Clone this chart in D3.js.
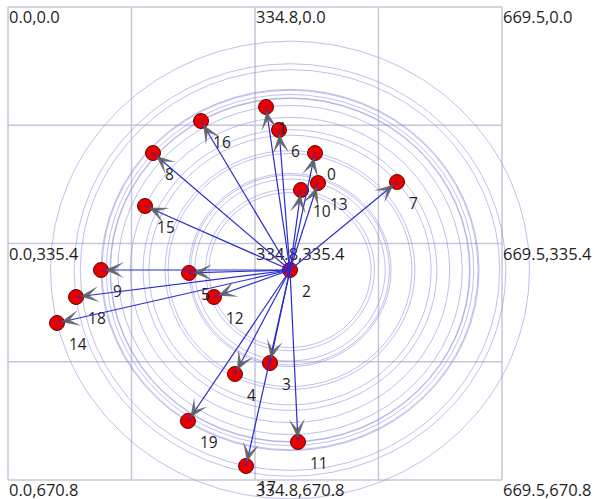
<!DOCTYPE html>
<html>
<head>
<meta charset="utf-8">
<script src="https://cdn.jsdelivr.net/npm/d3@7"></script>
<style>
  html, body { margin: 0; padding: 0; background: #fff; }
  svg { display: block; }
  text { font-family: "Open Sans", "Noto Sans", sans-serif; fill: #1e1e1e; }
</style>
</head>
<body>
<svg id="chart" width="594" height="499"></svg>
<script>
// ---- data ----
const nodeIds = [0,1,2,3,4,5,6,7,8,9,10,11,12,13,14,15,16,17,18,19];
const nodeX = [416.1,349.7,382.2,355.1,307.6,245.3,367.3,527.2,196.5,126.0,397.1,393.0,279.2,420.1,66.4,185.7,261.6,322.6,92.2,243.9];
const nodeY = [207.1,141.8,373.0,504.9,520.5,377.2,174.4,248.2,207.1,373.0,259.5,616.9,411.3,249.6,448.1,282.2,161.7,650.9,411.3,587.1];
const centerId = 2;
const xTicks = [0, 334.8, 669.5];
const yTicks = [0, 335.4, 670.8];
const gridX = [0, 167.4, 334.8, 502.1, 669.5];
const gridY = [0, 167.7, 335.4, 503.1, 670.8];

// ---- scales ----
const x = d3.scaleLinear().domain([0, 669.5]).range([8, 502]);
const y = d3.scaleLinear().domain([0, 670.8]).range([7, 480]);

const svg = d3.select("#chart");

// grid
svg.append("g").selectAll("line").data(gridX).join("line")
  .attr("x1", d => x(d)).attr("x2", d => x(d))
  .attr("y1", y(0)).attr("y2", y(670.8))
  .attr("stroke", "#c6c6da").attr("stroke-width", 1.5);
svg.append("g").selectAll("line").data(gridY).join("line")
  .attr("y1", d => y(d)).attr("y2", d => y(d))
  .attr("x1", x(0)).attr("x2", x(669.5))
  .attr("stroke", "#c6c6da").attr("stroke-width", 1.5);

const nodes = nodeIds.map((id, i) => ({id, x: nodeX[i], y: nodeY[i]}));
const c = nodes.find(n => n.id === centerId);
const others = nodes.filter(n => n.id !== centerId);

// rings around centre through each node (in data space)
svg.append("g").selectAll("ellipse").data(others).join("ellipse")
  .attr("cx", x(c.x)).attr("cy", y(c.y))
  .attr("rx", d => { const R = Math.hypot(d.x - c.x, d.y - c.y); return x(R) - x(0); })
  .attr("ry", d => { const R = Math.hypot(d.x - c.x, d.y - c.y); return y(R) - y(0); })
  .attr("fill", "none").attr("stroke", "#8a8ae0").attr("stroke-opacity", 0.55).attr("stroke-width", 1);

// grid labels
const tickPairs = [];
yTicks.forEach(ty => xTicks.forEach(tx => tickPairs.push({tx, ty})));
svg.append("g").selectAll("text").data(tickPairs).join("text")
  .attr("x", d => x(d.tx) + 1).attr("y", d => y(d.ty) + 16)
  .attr("font-size", 16.5)
  .text(d => d.tx.toFixed(1) + "," + d.ty.toFixed(1));

// nodes
svg.append("g").selectAll("circle").data(nodes).join("circle")
  .attr("cx", d => x(d.x)).attr("cy", d => y(d.y)).attr("r", 7.5)
  .attr("fill", "#e60000").attr("stroke", "#6a0000").attr("stroke-width", 1);

// node labels
svg.append("g").selectAll("text").data(nodes).join("text")
  .attr("x", d => x(d.x) + 12).attr("y", d => y(d.y) + 27)
  .attr("font-size", 15.5)
  .text(d => d.id);

// links
svg.append("g").selectAll("line").data(others).join("line")
  .attr("x1", x(c.x)).attr("y1", y(c.y))
  .attr("x2", d => x(d.x)).attr("y2", d => y(d.y))
  .attr("stroke", "#2a2ad0").attr("stroke-width", 1.2);

// arrowheads
svg.append("g").selectAll("path").data(others).join("path")
  .attr("d", "M0,0 L-19,-8 L-9,0 L-19,8 Z")
  .attr("fill", "#5c5c66").attr("fill-opacity", 0.9)
  .attr("transform", d => {
    const px = x(d.x), py = y(d.y), cx = x(c.x), cy = y(c.y);
    const a = Math.atan2(py - cy, px - cx);
    const tx = px - 4 * Math.cos(a), ty = py - 4 * Math.sin(a);
    return `translate(${tx},${ty}) rotate(${a * 180 / Math.PI})`;
  });
</script>
</body>
</html>
